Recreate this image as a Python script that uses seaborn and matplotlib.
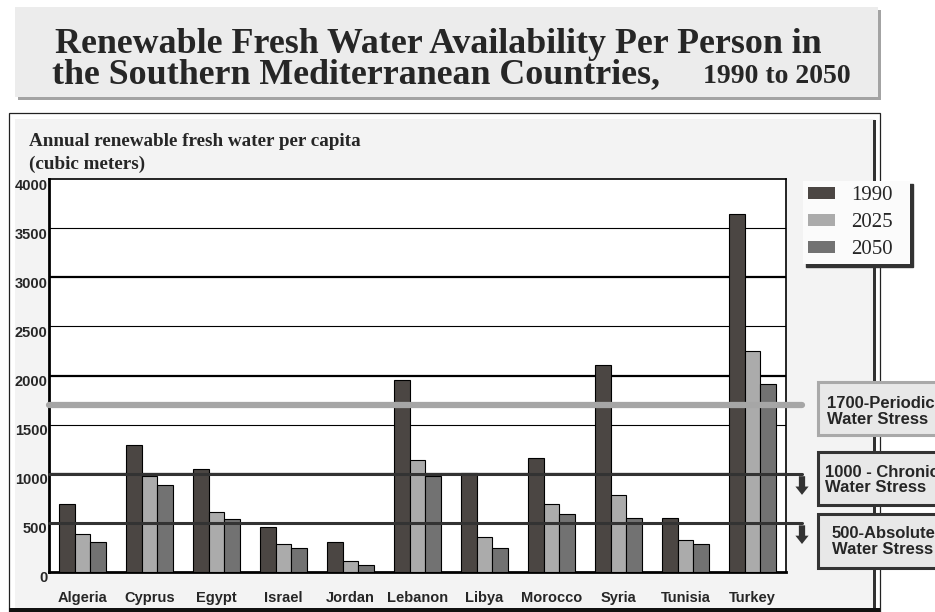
import numpy as np
import pandas as pd
import matplotlib
matplotlib.use("Agg")
import matplotlib.pyplot as plt
import matplotlib.transforms as mtransforms
from matplotlib.patches import Rectangle, Patch
import seaborn as sns

# ---- data -------------------------------------------------------------
countries = ["Algeria", "Cyprus", "Egypt", "Israel", "Jordan", "Lebanon",
             "Libya", "Morocco", "Syria", "Tunisia", "Turkey"]
years = ["1990", "2025", "2050"]
water_1990 = [690, 1290, 1045, 460, 310, 1955, 1010, 1165, 2105, 550, 3640]
water_2025 = [385, 975, 615, 280, 110, 1135, 355, 695, 780, 330, 2250]
water_2050 = [305, 890, 535, 245, 75, 975, 245, 590, 550, 280, 1915]
stress_levels = [1700, 1000, 500]
stress_labels = ["1700-Periodic\nWater Stress",
                 "1000 - Chronic\nWater Stress",
                 "500-Absolute\nWater Stress"]
y_ticks = [0, 500, 1000, 1500, 2000, 2500, 3000, 3500, 4000]

title_line1 = "Renewable Fresh Water Availability Per Person in"
title_line2 = "the Southern Mediterranean Countries,"
title_years = "1990 to 2050"
ylabel_lines = ["Annual renewable fresh water per capita", "(cubic meters)"]

df = pd.DataFrame({
    "country": countries * 3,
    "year": [years[0]] * 11 + [years[1]] * 11 + [years[2]] * 11,
    "value": water_1990 + water_2025 + water_2050,
})

# ---- style ------------------------------------------------------------
sns.set_style("white")
plt.rcParams["font.family"] = ["Liberation Sans", "DejaVu Sans"]
SERIF = ["Liberation Serif", "DejaVu Serif"]
bar_colors = ["#4b4643", "#ababab", "#727272"]

W, H = 935, 612
fig = plt.figure(figsize=(W / 100, H / 100), dpi=100)
fig.patch.set_facecolor("white")


def fx(x):
    return x / W


def fy(y):
    return 1 - y / H


def frect(x0, y0, x1, y1, **kw):
    r = Rectangle((fx(x0), fy(y1)), (x1 - x0) / W, (y1 - y0) / H,
                  transform=fig.transFigure, **kw)
    fig.patches.append(r)
    return r


# title banner with drop shadow
frect(18, 10, 881, 100, fc="#a3a3a3", ec="none", zorder=0)
frect(15, 7, 878, 97, fc="#ececec", ec="none", zorder=1)
fig.text(fx(55), fy(53), title_line1, family=SERIF, weight="bold",
         fontsize=25.8, va="baseline", ha="left", zorder=2)
fig.text(fx(52), fy(83), title_line2, family=SERIF, weight="bold",
         fontsize=25.8, va="baseline", ha="left", zorder=2)
fig.text(fx(703), fy(83), title_years, family=SERIF, weight="bold",
         fontsize=20, va="baseline", ha="left", zorder=2)

# chart panel
frect(9, 113, 880, 612, fc="white", ec="#222222", lw=0.9, zorder=0)
frect(15, 119, 875, 609, fc="#f3f3f3", ec="none", zorder=0.5)
frect(873, 120, 876, 609, fc="#333333", ec="none", zorder=0.6)
frect(9, 608, 880, 612, fc="#111111", ec="none", zorder=0.6)

for i, line in enumerate(ylabel_lines):
    fig.text(fx(29), fy(141 + 23.5 * i), line, family=SERIF, weight="bold",
             fontsize=13.8, va="center", ha="left")

# ---- axes and bars ----------------------------------------------------
ax = fig.add_axes([fx(49), fy(572), 737 / W, 393 / H])
ax.set_facecolor("white")
ax.set_zorder(2)

sns.barplot(data=df, x="country", y="value", hue="year", order=countries,
            hue_order=years, palette=bar_colors, width=0.69, saturation=1,
            edgecolor="black", linewidth=0.8, legend=False, ax=ax, zorder=3)

ax.set_ylim(0, 4000)
ax.set_xlim(-0.5, len(countries) - 0.5)
ax.set_xlabel("")
ax.set_ylabel("")

# horizontal gridlines: thin every 500, heavier every 1000
ax.set_yticks(y_ticks)
ax.set_yticklabels([str(v) for v in y_ticks])
for v in y_ticks[1:-1]:
    ax.axhline(v, color="black", lw=1.6 if v % 1000 == 0 else 0.8, zorder=1)

for side in ["left", "bottom"]:
    ax.spines[side].set_linewidth(2.0)
    ax.spines[side].set_color("black")
for side in ["top", "right"]:
    ax.spines[side].set_linewidth(1.2)
    ax.spines[side].set_color("black")

ax.tick_params(axis="y", length=0, pad=1, labelsize=10.5)
ax.tick_params(axis="x", which="major", length=0, pad=14, labelsize=10.5)
ax.set_xticks(np.arange(-0.5, len(countries), 1.0), minor=True)
ax.tick_params(axis="x", which="minor", direction="inout", length=4.5,
               width=1.0, color="black")
for lab in ax.get_xticklabels() + ax.get_yticklabels():
    lab.set_fontweight("bold")
shift = mtransforms.ScaledTranslation(0, -5 / 100, fig.dpi_scale_trans)
for lab in ax.get_yticklabels():
    lab.set_transform(lab.get_transform() + shift)

# water stress thresholds, extended past the plot to the arrows
x_ext = (802 - 49) / 737
ax.axhline(stress_levels[0], xmin=0, xmax=x_ext, color="#a6a6a6", lw=4.5,
           clip_on=False, zorder=5)
for lvl in stress_levels[1:]:
    ax.axhline(lvl, xmin=0, xmax=x_ext, color="#333333", lw=2.2,
               clip_on=False, zorder=5)
    ax.annotate("", xy=(x_ext, lvl - 215), xytext=(x_ext, lvl - 25),
                xycoords=ax.get_yaxis_transform(),
                textcoords=ax.get_yaxis_transform(),
                annotation_clip=False,
                arrowprops=dict(arrowstyle="simple,head_length=0.6,"
                                "head_width=0.95,tail_width=0.45",
                                fc="#333333", ec="none", shrinkA=0,
                                shrinkB=0, mutation_scale=10))

# threshold label boxes
box_specs = [((818, 382, 950, 435), "#a9a9a9", 827, 411.5),
             ((818, 452, 950, 505), "#333333", 825, 480.0),
             ((818, 514, 950, 568), "#333333", 832, 541.5)]
for (coords, ec, tx, ty), text in zip(box_specs, stress_labels):
    frect(*coords, fc="#e8e8e8", ec=ec, lw=2.2, zorder=3)
    fig.text(fx(tx), fy(ty), text, weight="bold", fontsize=12,
             ha="left", va="center", linespacing=1.0, zorder=4)

# legend
handles = [Patch(facecolor=c, edgecolor="none") for c in bar_colors]
leg = ax.legend(handles, years, loc="upper left", mode="expand",
                bbox_to_anchor=(fx(803), fy(264), 107 / W, 83 / H),
                bbox_transform=fig.transFigure, borderaxespad=0,
                prop={"family": SERIF, "size": 15},
                handlelength=1.3, handleheight=0.5, handletextpad=0.75,
                labelspacing=0.38, borderpad=0.25, frameon=True,
                fancybox=False, facecolor="#fbfbfb", edgecolor="none",
                framealpha=1, shadow={"color": "#333333", "alpha": 1})
leg.set_zorder(10)

fig.savefig("out.png", dpi=100)
